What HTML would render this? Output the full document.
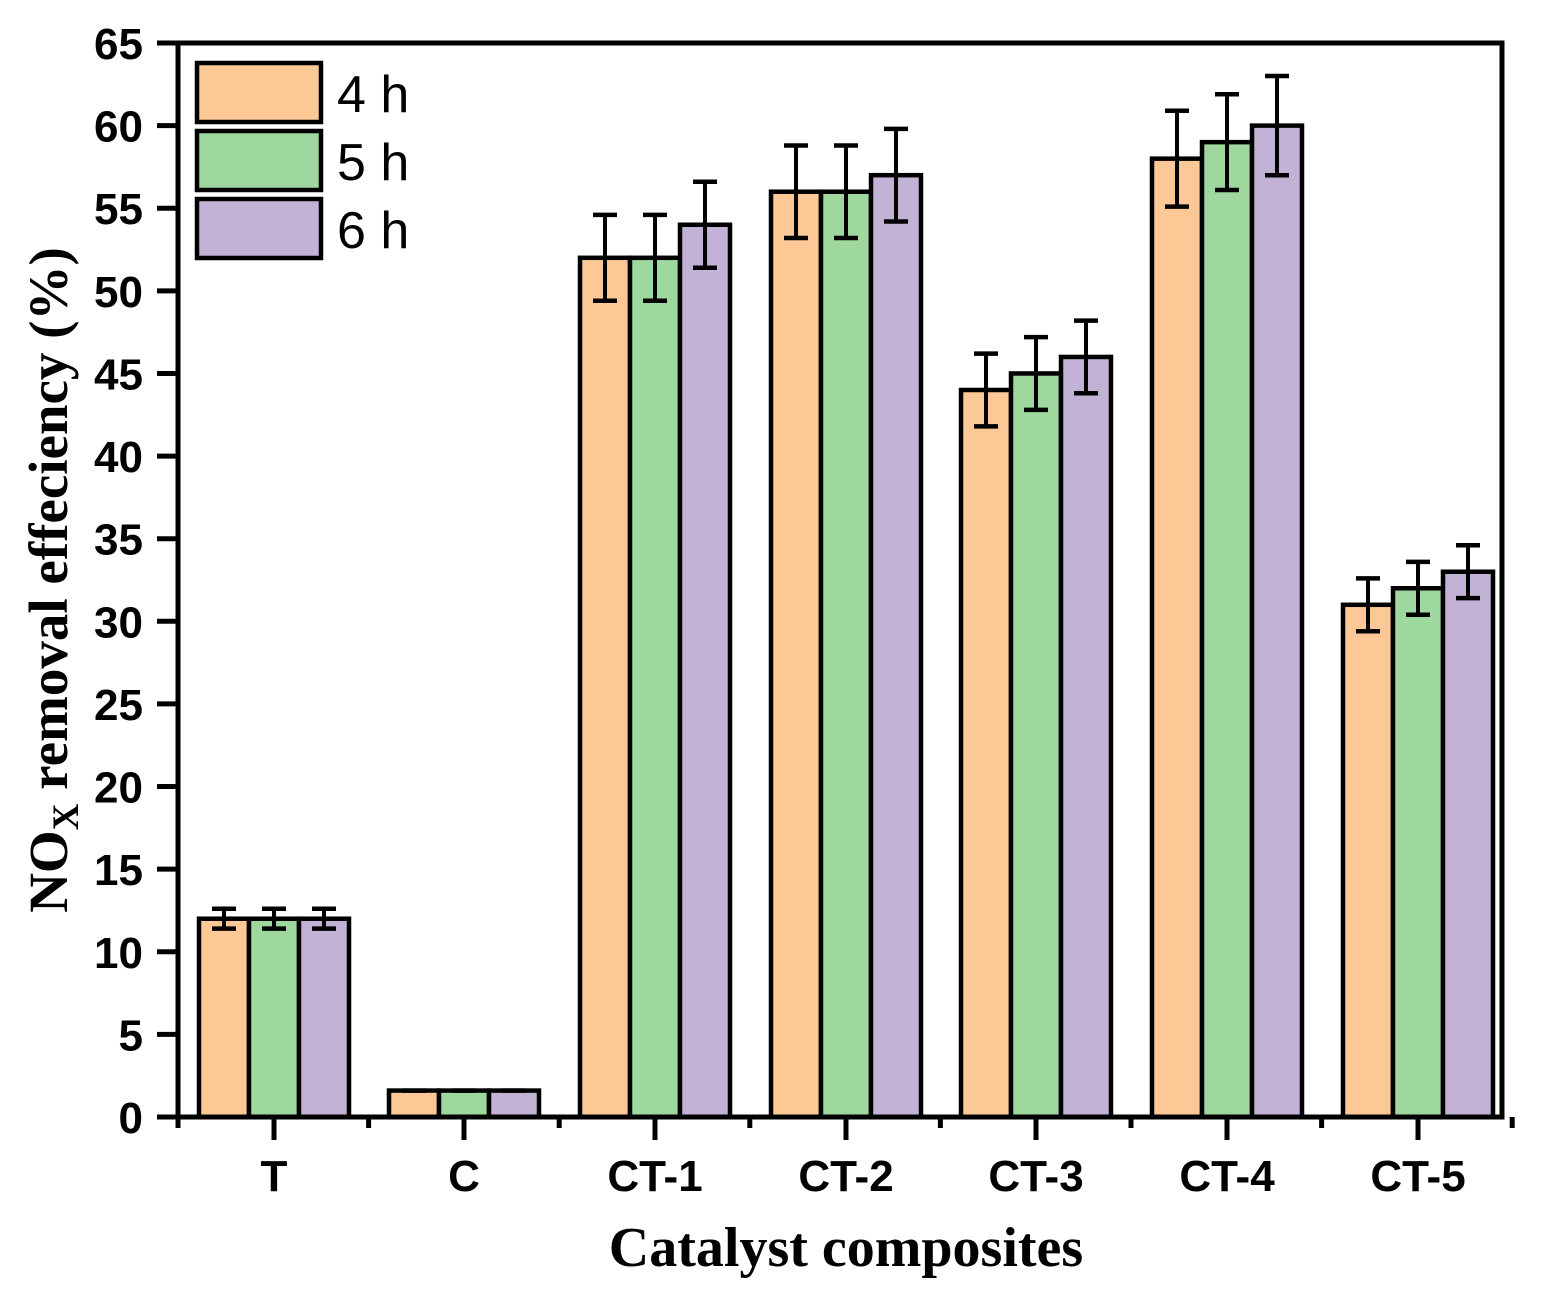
<!DOCTYPE html>
<html><head><style>html,body{margin:0;padding:0;background:#fff;}svg{display:block}</style></head>
<body>
<svg width="1542" height="1296" viewBox="0 0 1542 1296" xmlns="http://www.w3.org/2000/svg">
<g id="bars" stroke="#000" stroke-width="4.5"></g>
<rect x="178" y="43" width="1324" height="1074" fill="none" stroke="#000" stroke-width="5"/>
<g id="axes"></g>
<g stroke="#000" stroke-width="4.5">
<rect x="197" y="63" width="124" height="59" fill="#FBC896"/>
<rect x="197" y="131" width="124" height="59" fill="#9ED89E"/>
<rect x="197" y="199" width="124" height="59" fill="#C2B2D6"/>
</g>
<g font-family="Liberation Sans, sans-serif" font-size="52">
<text x="337" y="112">4 h</text>
<text x="337" y="180">5 h</text>
<text x="337" y="248">6 h</text>
</g>
<text x="846" y="1266" text-anchor="middle" font-family="Liberation Serif, serif" font-weight="bold" font-size="56">Catalyst composites</text>
<text transform="translate(67,580) rotate(-90)" text-anchor="middle" font-family="Liberation Serif, serif" font-weight="bold" font-size="55">NO<tspan font-size="37" dy="11">X</tspan><tspan dy="-11"> removal effeciency (%)</tspan></text>
<script>
(function(){
var NS="http://www.w3.org/2000/svg";
function el(parent,tag,attrs,txt){var e=document.createElementNS(NS,tag);for(var k in attrs)e.setAttribute(k,attrs[k]);if(txt!==undefined)e.textContent=txt;parent.appendChild(e);return e;}
var s=16.523,y0=1117;
function Y(v){return y0-v*s;}
var centers=[274,464,655,846,1036,1227,1418];
var vals=[[12,12,12],[1.6,1.6,1.6],[52,52,54],[56,56,57],[44,45,46],[58,59,60],[31,32,33]];
var errs=[[0.6,0.6,0.6],[0,0,0],[2.6,2.6,2.6],[2.8,2.8,2.8],[2.2,2.2,2.2],[2.9,2.9,3],[1.6,1.6,1.6]];
var cols=["#FBC896","#9ED89E","#C2B2D6"];
var B=document.getElementById('bars');
for(var g=0;g<7;g++){
 for(var i=0;i<3;i++){var x=centers[g]-75+i*50,v=vals[g][i];
  el(B,'rect',{x:x,y:Y(v),width:50,height:v*s,fill:cols[i]});}
 for(var i=0;i<3;i++){var cx=centers[g]-50+i*50,v=vals[g][i],e=errs[g][i];
  if(e>0){el(B,'line',{x1:cx,y1:Y(v+e),x2:cx,y2:Y(v-e),'stroke-width':4});
   el(B,'line',{x1:cx-12,y1:Y(v+e),x2:cx+12,y2:Y(v+e)});
   el(B,'line',{x1:cx-12,y1:Y(v-e),x2:cx+12,y2:Y(v-e)});}
  else{el(B,'line',{x1:cx-12,y1:Y(v),x2:cx+12,y2:Y(v)});}}
}
var A=document.getElementById('axes');
for(var k=0;k<=13;k++){var yy=Y(k*5);
 el(A,'line',{x1:157,y1:yy,x2:178,y2:yy,stroke:'#000','stroke-width':5});
 el(A,'text',{x:143,y:yy+16,'text-anchor':'end','font-family':'Liberation Sans, sans-serif','font-weight':'bold','font-size':'44px'},String(k*5));}
var labs=["T","C","CT-1","CT-2","CT-3","CT-4","CT-5"];
for(var g=0;g<7;g++){
 el(A,'line',{x1:centers[g],y1:1117,x2:centers[g],y2:1140,stroke:'#000','stroke-width':5});
 el(A,'text',{x:centers[g],y:1191,'text-anchor':'middle','font-family':'Liberation Sans, sans-serif','font-weight':'bold','font-size':'44px'},labs[g]);}
for(var g=0;g<8;g++){var mx=178+g*190.6;
 el(A,'line',{x1:mx,y1:1117,x2:mx,y2:1128,stroke:'#000','stroke-width':5});}
})();
</script>
</svg>
</body></html>
